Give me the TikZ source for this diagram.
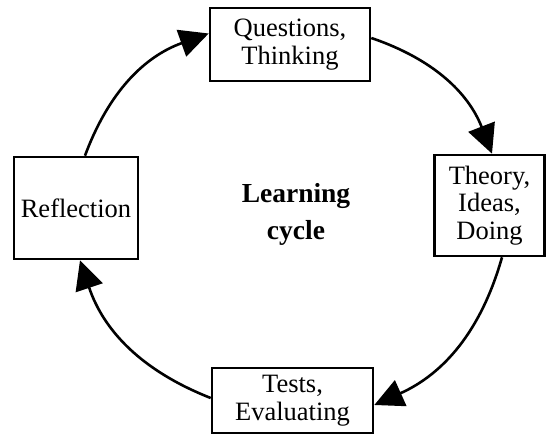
\documentclass[tikz,border=0pt]{standalone}
\usepackage{fontspec}
\setmainfont{Liberation Serif}
\usetikzlibrary{arrows.meta}
\begin{document}
\begin{tikzpicture}[x=1pt,y=1pt,
  stagebox/.style={draw=black, line width=2.6pt, fill=white, align=center,
    inner sep=0pt, font=\fontsize{26.5}{28.5}\selectfont},
  cyclearrow/.style={line width=2.6pt, bend left=25,
    -{Triangle[length=29pt,width=28pt]}}]
\useasboundingbox (0,0) rectangle (546,435);
\node[stagebox, minimum width=160pt, minimum height=73pt] (top) at (290,390.5) {Questions,\\Thinking};
\node[stagebox, minimum width=110pt, minimum height=101pt, font=\fontsize{26.5}{27.5}\selectfont] (right) at (489.5,229.5) {Theory,\\Ideas,\\Doing};
\node[stagebox, minimum width=124pt, minimum height=102pt] (left) at (76,227) {Reflection};
\node[stagebox, minimum width=161pt, minimum height=65pt] (bottom) at (292.5,34.5) {Tests,\\Evaluating};
\node[align=center, font=\bfseries\fontsize{27.5}{37}\selectfont] (center) at (296,221) {Learning\\cycle};
\draw[cyclearrow] ([xshift=9pt]left.north) to ([yshift=11pt]top.west);
\draw[cyclearrow] ([yshift=6.5pt]top.east) to ([xshift=2.5pt]right.north);
\draw[cyclearrow] ([xshift=12.5pt]right.south) to ([yshift=-4.5pt]bottom.east);
\draw[cyclearrow] ([yshift=2.5pt]bottom.west) to ([xshift=4pt]left.south);
\end{tikzpicture}
\end{document}
